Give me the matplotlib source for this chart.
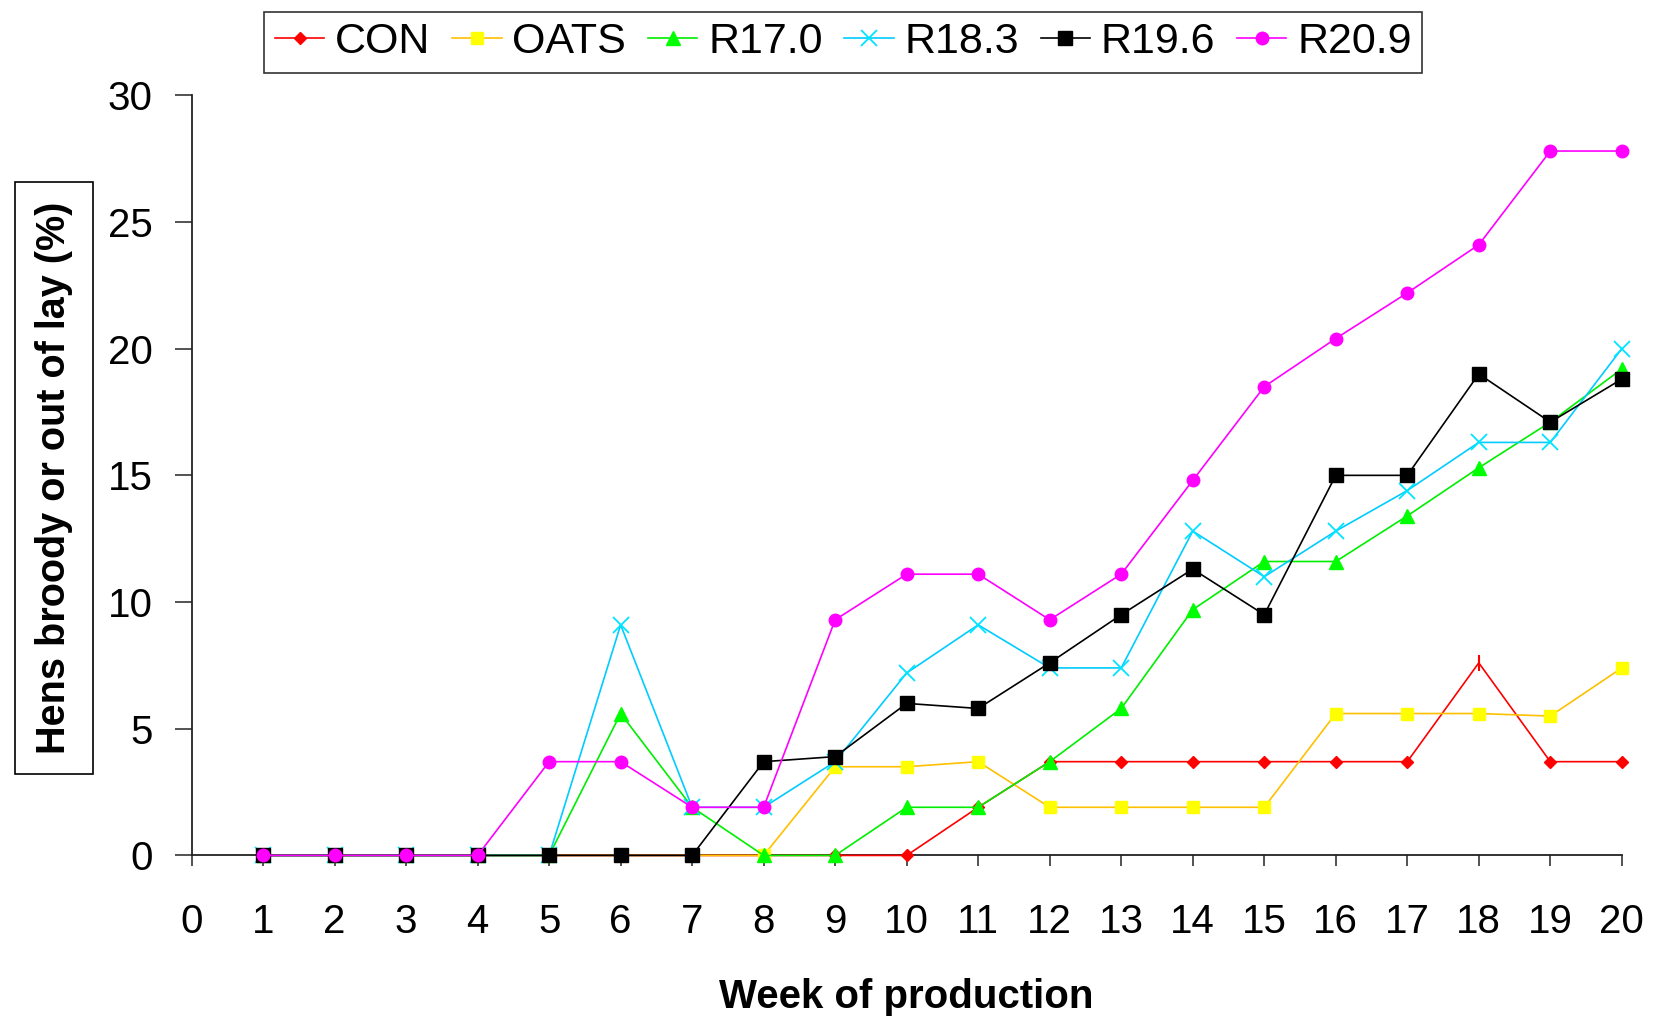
import matplotlib
matplotlib.use("Agg")
import matplotlib.pyplot as plt

plt.rcParams['font.family'] = ['Liberation Sans', 'DejaVu Sans']

# Weekly percentage of hens broody or out of lay, per diet
weeks = list(range(1, 21))
con = [0, 0, 0, 0, 0, 0, 0, 0, 0, 0, 1.9, 3.7, 3.7, 3.7, 3.7, 3.7, 3.7, 7.6, 3.7, 3.7]
oats = [0, 0, 0, 0, 0, 0, 0, 0, 3.5, 3.5, 3.7, 1.9, 1.9, 1.9, 1.9, 5.6, 5.6, 5.6, 5.5, 7.4]
r170 = [0, 0, 0, 0, 0, 5.6, 1.9, 0, 0, 1.9, 1.9, 3.7, 5.8, 9.7, 11.6, 11.6, 13.4, 15.3, 17.1, 19.2]
r183 = [0, 0, 0, 0, 0, 9.1, 1.9, 1.9, 3.7, 7.2, 9.1, 7.4, 7.4, 12.8, 11.0, 12.8, 14.4, 16.3, 16.3, 20.0]
r196 = [0, 0, 0, 0, 0, 0, 0, 3.7, 3.9, 6.0, 5.8, 7.6, 9.5, 11.3, 9.5, 15.0, 15.0, 19.0, 17.1, 18.8]
r209 = [0, 0, 0, 0, 3.7, 3.7, 1.9, 1.9, 9.3, 11.1, 11.1, 9.3, 11.1, 14.8, 18.5, 20.4, 22.2, 24.1, 27.8, 27.8]

fig = plt.figure(figsize=(16.6, 10.18), dpi=100)
ax = fig.add_axes([0.1154, 0.1597, 0.8616, 0.7467])

# CON: diamond markers, except week 18 which shows only a small tick
ax.plot(weeks, con, color='#FF0000', lw=1.2, marker='D', ms=6.5,
        mfc='#FF0000', mec='#FF0000', markevery=[i for i in range(20) if i != 17],
        label='CON', zorder=3)
ax.plot(weeks[17], con[17], marker='|', ms=12, color='#FF0000', mew=1.5, zorder=3)
ax.plot(weeks, oats, color='#FFC000', lw=1.2, marker='s', ms=9,
        mfc='#FFFF00', mec='#FFFF00', label='OATS', zorder=3)
ax.plot(weeks, r170, color='#00EE00', lw=1.2, marker='^', ms=10,
        mfc='#00FF00', mec='#00FF00', label='R17.0', zorder=3)
ax.plot(weeks, r183, color='#00CCFF', lw=1.2, marker='x', ms=11, mew=1.3,
        mec='#00E5FF', label='R18.3', zorder=3)
ax.plot(weeks, r196, color='#000000', lw=1.2, marker='s', ms=9.5,
        mfc='#000000', mec='#000000', label='R19.6', zorder=4)
ax.plot(weeks, r209, color='#FF00FF', lw=1.2, marker='o', ms=9,
        mfc='#FF00FF', mec='#FF00FF', label='R20.9', zorder=5)

ax.set_xlim(0, 20)
ax.set_ylim(0, 30)
ax.set_xticks(range(0, 21))
ax.set_yticks(range(0, 31, 5))
for side in ('top', 'right'):
    ax.spines[side].set_visible(False)
for side in ('left', 'bottom'):
    ax.spines[side].set_linewidth(1.3)
    ax.spines[side].set_color('#222222')
for ln in ax.lines:
    ln.set_clip_on(False)

ax.tick_params(axis='x', direction='out', length=8, width=1.3, pad=26,
               labelsize=29, color='#444444')
ax.tick_params(axis='y', direction='out', length=12, width=1.3, pad=16,
               labelsize=29, color='#444444')

ax.set_xlabel('Week of production', fontsize=29, fontweight='bold', labelpad=27)

fig.text(0.0325, 0.5305, 'Hens broody or out of lay (%)', rotation=90,
         ha='center', va='center', fontsize=28.5, fontweight='bold',
         bbox=dict(boxstyle='square,pad=0.5', fc='white', ec='black', lw=1.2))

leg = ax.legend(loc='center', bbox_to_anchor=(0.508, 0.9584),
                bbox_transform=fig.transFigure, ncol=6, fontsize=31,
                frameon=True, fancybox=False, shadow=False,
                handlelength=1.15, handletextpad=0.25, columnspacing=0.5,
                borderpad=0.25, borderaxespad=0)
leg.get_frame().set_edgecolor('black')
leg.get_frame().set_linewidth(1.2)

fig.savefig('out.png', dpi=100)
